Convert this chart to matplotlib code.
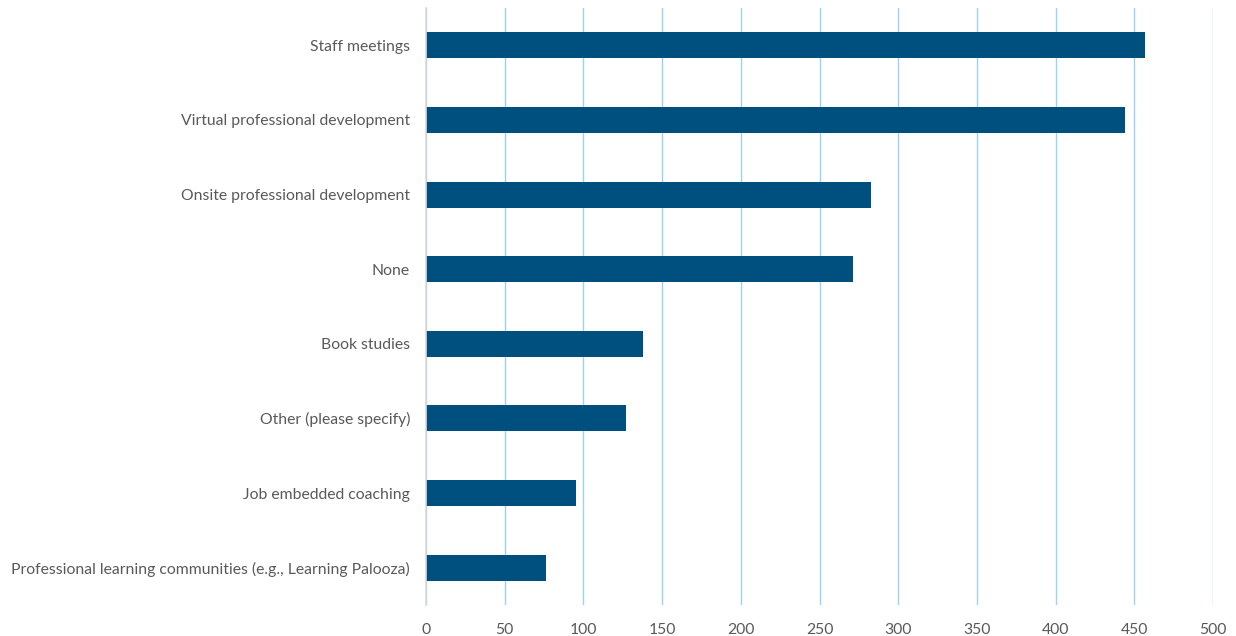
import matplotlib
matplotlib.use("Agg")
import matplotlib.pyplot as plt

categories = [
    "Staff meetings",
    "Virtual professional development",
    "Onsite professional development",
    "None",
    "Book studies",
    "Other (please specify)",
    "Job embedded coaching",
    "Professional learning communities (e.g., Learning Palooza)",
]
counts = [457, 444, 283, 271, 138, 127, 95, 76]
x_ticks = [0, 50, 100, 150, 200, 250, 300, 350, 400, 450, 500]

plt.rcParams['font.family'] = ['Lato', 'DejaVu Sans']

fig = plt.figure(figsize=(12.36, 6.36), dpi=100)
ax = fig.add_axes([426 / 1236, 1 - 605 / 636, (1213 - 426) / 1236, (605 - 8) / 636])

ypos = list(range(len(categories)))
ax.barh(ypos, counts, height=0.35, color='#00507F', zorder=3)

ax.set_xlim(0, 500)
ax.set_ylim(len(categories) - 0.5, -0.5)
ax.set_yticks(ypos)
ax.set_yticklabels(categories)
ax.set_xticks(x_ticks)

ax.grid(axis='x', color='#9BD3F2', linewidth=1, zorder=0)
for side in ['top', 'right', 'bottom']:
    ax.spines[side].set_visible(False)
ax.spines['left'].set_color('#D9D9D9')
ax.spines['left'].set_linewidth(1.2)
ax.spines['left'].set_zorder(4)

ax.tick_params(axis='both', length=0, labelsize=11.3, colors='#595959')
ax.tick_params(axis='y', pad=11.5)
ax.tick_params(axis='x', pad=13)

fig.savefig('out.png', dpi=100)
